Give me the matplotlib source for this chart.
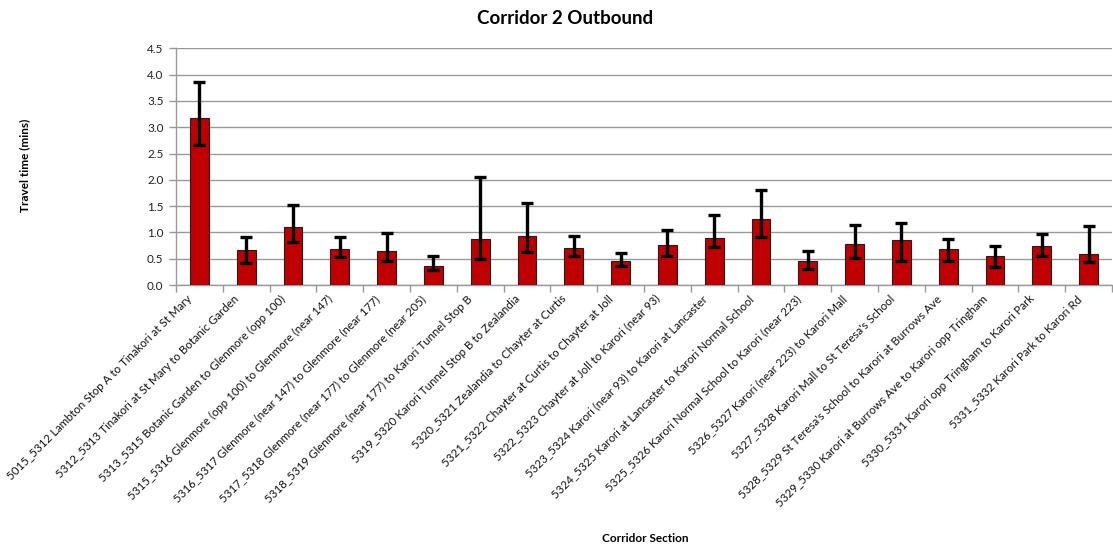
import matplotlib
matplotlib.use("Agg")
import matplotlib.pyplot as plt
import matplotlib.transforms as mtransforms
import numpy as np

categories = [
    "5015_5312 Lambton Stop A to Tinakori at St Mary",
    "5312_5313 Tinakori at St Mary to Botanic Garden",
    "5313_5315 Botanic Garden to Glenmore (opp 100)",
    "5315_5316 Glenmore (opp 100) to Glenmore (near 147)",
    "5316_5317 Glenmore (near 147) to Glenmore (near 177)",
    "5317_5318 Glenmore (near 177) to Glenmore (near 205)",
    "5318_5319 Glenmore (near 177) to Karori Tunnel Stop B",
    "5319_5320 Karori Tunnel Stop B to Zealandia",
    "5320_5321 Zealandia to Chayter at Curtis",
    "5321_5322 Chayter at Curtis to Chayter at Joll",
    "5322_5323 Chayter at Joll to Karori (near 93)",
    "5323_5324 Karori (near 93) to Karori at Lancaster",
    "5324_5325 Karori at Lancaster to Karori Normal School",
    "5325_5326 Karori Normal School to Karori (near 223)",
    "5326_5327 Karori (near 223) to Karori Mall",
    "5327_5328 Karori Mall to St Teresa's School",
    "5328_5329 St Teresa's School to Karori at Burrows Ave",
    "5329_5330 Karori at Burrows Ave to Karori opp Tringham",
    "5330_5331 Karori opp Tringham to Karori Park",
    "5331_5332 Karori Park to Karori Rd",
]
mean_time = [3.17, 0.66, 1.11, 0.68, 0.64, 0.355, 0.88, 0.93, 0.70, 0.45,
             0.755, 0.895, 1.26, 0.46, 0.775, 0.86, 0.685, 0.55, 0.75, 0.58]
err_low = [2.67, 0.41, 0.82, 0.53, 0.46, 0.285, 0.49, 0.63, 0.55, 0.37,
           0.56, 0.72, 0.91, 0.30, 0.51, 0.46, 0.46, 0.34, 0.55, 0.44]
err_high = [3.85, 0.92, 1.52, 0.91, 0.98, 0.56, 2.06, 1.56, 0.94, 0.60,
            1.05, 1.34, 1.80, 0.65, 1.14, 1.17, 0.88, 0.74, 0.97, 1.13]
yticks = [0.0, 0.5, 1.0, 1.5, 2.0, 2.5, 3.0, 3.5, 4.0, 4.5]

plt.rcParams['font.family'] = ['Lato', 'DejaVu Sans']

W, H = 1113, 545
fig = plt.figure(figsize=(W / 100, H / 100), dpi=100)
ax_left, ax_right, ax_top, ax_bottom = 176, 1112, 48.3, 285
ax = fig.add_axes([ax_left / W, 1 - ax_bottom / H, (ax_right - ax_left) / W, (ax_bottom - ax_top) / H])

x = np.arange(len(categories))
means = np.array(mean_time)
lo = means - np.array(err_low)
hi = np.array(err_high) - means

ax.bar(x, means, width=0.4, color="#C00000", edgecolor="#202020", linewidth=0.8, zorder=3)
ax.errorbar(x, means, yerr=[lo, hi], fmt='none', ecolor='black', elinewidth=2.4,
            capsize=4.0, capthick=2.4, zorder=4)

ax.set_xlim(-0.5, 19.4)
ax.set_ylim(0, 4.5)
ax.set_yticks(yticks)
ax.set_yticklabels([f"{v:.1f}" for v in yticks], fontsize=8.5, color="#222222")
ax.yaxis.grid(True, color="#999999", linewidth=1.0, zorder=0)
ax.set_axisbelow(True)

ax.set_xticks(x)
ax.set_xticklabels(categories, rotation=45, ha='right', va='top', rotation_mode='anchor',
                   fontsize=8.3, color="#111111")
ax.tick_params(axis='x', length=0, pad=3)
offset = mtransforms.ScaledTranslation(-13 / 100, -4 / 100, fig.dpi_scale_trans)
for lbl in ax.get_xticklabels():
    lbl.set_transform(lbl.get_transform() + offset)
ax.set_xticks(np.arange(-0.5, 20, 1.0), minor=True)
ax.tick_params(axis='x', which='minor', length=5, color="#999999", width=1)
ax.tick_params(axis='y', length=5, color="#999999", width=1, pad=4)

for s in ['top', 'right']:
    ax.spines[s].set_visible(False)
for s in ['left', 'bottom']:
    ax.spines[s].set_color("#999999")
    ax.spines[s].set_linewidth(1.0)

fig.text(565 / W, 1 - 19 / H, "Corridor 2 Outbound",
         ha='center', va='center', fontsize=13.5, fontweight='bold')
fig.text(25 / W, 1 - 165 / H, "Travel time (mins)", rotation=90, ha='center', va='center',
         fontsize=8.5, fontweight='bold')
fig.text(645 / W, 1 - 538 / H, "Corridor Section", ha='center', va='center',
         fontsize=8.5, fontweight='bold')

fig.savefig("out.png", dpi=100, facecolor='white')
